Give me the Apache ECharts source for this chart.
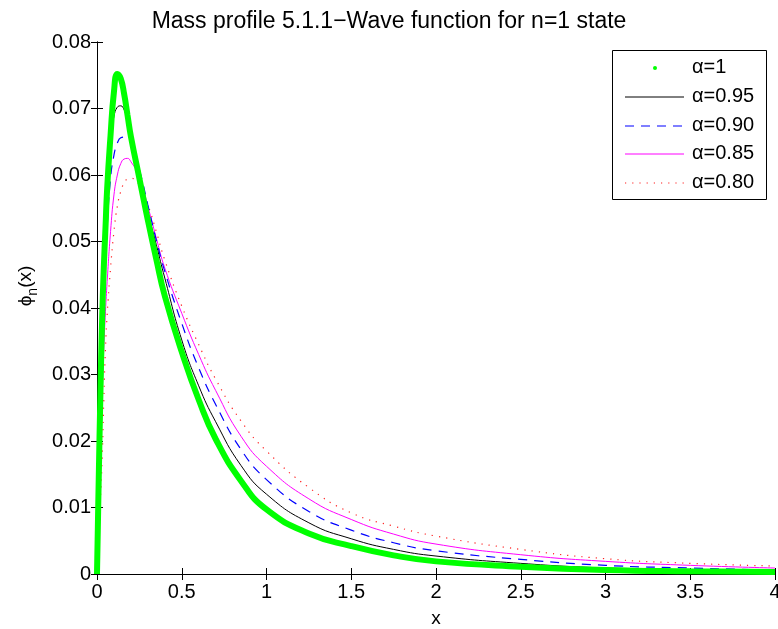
<!DOCTYPE html>
<html>
<head>
<meta charset="utf-8">
<script src="https://cdn.jsdelivr.net/npm/echarts@6/dist/echarts.min.js"></script>
<style>
  html, body { margin: 0; padding: 0; background: #fff; }
  #chart { width: 778px; height: 629px; }
</style>
</head>
<body>
<div id="chart"></div>
<script>
// Sample positions along x (shared by all curves)
const xs = [0, 0.005, 0.01, 0.02, 0.03, 0.04, 0.05, 0.06, 0.08, 0.1, 0.12, 0.14, 0.16, 0.18, 0.2,
  0.25, 0.3, 0.35, 0.4, 0.5, 0.6, 0.7, 0.85, 1.0, 1.25, 1.5, 1.75, 2.0, 2.5, 3.0, 3.5, 4.0];

// Wave function values phi_n(x) for each alpha
const phiAlpha100 = [0, 0.007, 0.014, 0.027, 0.038, 0.046, 0.052, 0.058, 0.066, 0.0725, 0.0752, 0.0745, 0.0722, 0.069, 0.0658,
  0.0595, 0.0532, 0.0473, 0.0418, 0.0334, 0.0262, 0.0203, 0.0140, 0.0097, 0.0061, 0.0042, 0.0028, 0.0019, 0.0011, 0.0006, 0.0004, 0.0003];
const phiAlpha095 = [0, 0.008, 0.0155, 0.029, 0.040, 0.048, 0.054, 0.0595, 0.0655, 0.0688, 0.0702, 0.0704, 0.0698, 0.0683, 0.0662,
  0.0603, 0.0545, 0.0495, 0.0445, 0.0352, 0.0283, 0.0229, 0.0163, 0.0120, 0.0077, 0.0053, 0.0037, 0.0027, 0.0016, 0.0009, 0.0006, 0.0004];
const phiAlpha090 = [0, 0.0065, 0.013, 0.0245, 0.034, 0.0415, 0.047, 0.0522, 0.0595, 0.0630, 0.0648, 0.0656, 0.0657, 0.0655, 0.0648,
  0.0608, 0.0555, 0.0502, 0.0455, 0.0377, 0.0310, 0.0255, 0.0187, 0.0142, 0.0094, 0.0066, 0.0047, 0.0035, 0.0022, 0.0013, 0.0009, 0.0006];
const phiAlpha085 = [0, 0.0045, 0.009, 0.0172, 0.0265, 0.034, 0.0395, 0.044, 0.0515, 0.057, 0.0600, 0.0617, 0.0624, 0.0625, 0.0620,
  0.0598, 0.0553, 0.0505, 0.0460, 0.0392, 0.0330, 0.0276, 0.0207, 0.0162, 0.0113, 0.0082, 0.0060, 0.0045, 0.0029, 0.0019, 0.0013, 0.0009];
const phiAlpha080 = [0, 0.0025, 0.005, 0.011, 0.017, 0.026, 0.034, 0.039, 0.046, 0.0515, 0.0553, 0.0575, 0.0588, 0.0594, 0.0595,
  0.0585, 0.0555, 0.0515, 0.0472, 0.0403, 0.0345, 0.0293, 0.0230, 0.0185, 0.0130, 0.0092, 0.0072, 0.0057, 0.0037, 0.0023, 0.0016, 0.0012];

const seriesNames = ['α=1', 'α=0.95', 'α=0.90', 'α=0.85', 'α=0.80'];
const titleText = 'Mass profile 5.1.1\u2212Wave function for n=1 state';

const FONT = '"Liberation Sans", Arial, Helvetica, sans-serif';

const chart = echarts.init(document.getElementById('chart'), null, { renderer: 'canvas' });

function pairs(ys) { return xs.map((x, i) => [x, ys[i]]); }

const styles = [
  { color: '#00ff00', width: 6, type: 'solid' },
  { color: '#000000', width: 1, type: 'solid' },
  { color: '#0000ff', width: 1.2, type: [9, 7] },
  { color: '#ff00ff', width: 1, type: 'solid' },
  { color: '#ff2020', width: 1.2, type: [1.2, 6] }
];
const values = [phiAlpha100, phiAlpha095, phiAlpha090, phiAlpha085, phiAlpha080];

const series = values.map((ys, k) => ({
  name: seriesNames[k],
  type: 'line',
  data: pairs(ys),
  showSymbol: false,
  symbol: 'none',
  smooth: 0.5,
  animation: false,
  lineStyle: { color: styles[k].color, width: styles[k].width, type: styles[k].type },
  z: 10 - k
}));

const axisLine = { show: true, lineStyle: { color: '#000', width: 1 } };
const tickIn = { show: true, inside: true, length: 6, lineStyle: { color: '#000', width: 1 } };
const labelStyle = { color: '#000', fontSize: 20, fontFamily: FONT };

// Legend box drawn as graphic elements
const legendLeft = 612, legendTop = 50, legendW = 154, legendH = 149;
const rowY = [68, 97, 126, 154, 183];
const legendGraphics = [
  { type: 'rect', left: legendLeft, top: legendTop, shape: { width: legendW, height: legendH },
    style: { fill: '#fff', stroke: '#000', lineWidth: 1 }, z: 100 }
];
rowY.forEach((y, k) => {
  if (k === 0) {
    legendGraphics.push({ type: 'circle', shape: { cx: 655, cy: y, r: 2 }, style: { fill: '#00ff00' }, z: 101 });
  } else {
    legendGraphics.push({ type: 'line', shape: { x1: 625, y1: y, x2: 684, y2: y },
      style: { stroke: styles[k].color, lineWidth: styles[k].width, lineDash: Array.isArray(styles[k].type) ? styles[k].type : null }, z: 101 });
  }
  legendGraphics.push({ type: 'text', left: 692, top: y - 11,
    style: { text: seriesNames[k], fill: '#000', font: '20px ' + FONT }, z: 101 });
});

chart.setOption({
  backgroundColor: '#fff',
  animation: false,
  title: {
    text: titleText,
    left: 'center',
    top: 5,
    textStyle: { color: '#000', fontSize: 23, fontWeight: 'normal', fontFamily: FONT }
  },
  grid: { left: 97, right: 3, top: 42, bottom: 55, containLabel: false, outerBoundsMode: 'none' },
  xAxis: [
    {
      type: 'value', min: 0, max: 4, interval: 0.5, position: 'bottom',
      axisLine, axisTick: tickIn, splitLine: { show: false },
      axisLabel: Object.assign({ margin: 8 }, labelStyle),
      name: 'x', nameLocation: 'middle', nameGap: 35,
      nameTextStyle: { color: '#000', fontSize: 19, fontFamily: FONT }
    },
    {
      type: 'value', min: 0, max: 4, interval: 0.5, position: 'top',
      axisLine, axisTick: tickIn, splitLine: { show: false }, axisLabel: { show: false }
    }
  ],
  yAxis: [
    {
      type: 'value', min: 0, max: 0.08, interval: 0.01, position: 'left',
      axisLine, axisTick: tickIn, splitLine: { show: false },
      axisLabel: Object.assign({ margin: 6, formatter: v => (v === 0 ? '0' : v.toFixed(2)) }, labelStyle),
      name: '{a|ϕ}{b|n}{a|(x)}', nameLocation: 'middle', nameGap: 57, nameRotate: 90,
      nameTextStyle: {
        color: '#000', fontFamily: FONT, padding: [0, 0, 0, 44],
        rich: {
          a: { fontSize: 19, fontFamily: FONT, color: '#000' },
          b: { fontSize: 14, fontFamily: FONT, color: '#000', padding: [14, 0, 0, 0] }
        }
      }
    },
    {
      type: 'value', min: 0, max: 0.08, interval: 0.01, position: 'right',
      axisLine, axisTick: tickIn, splitLine: { show: false }, axisLabel: { show: false }
    }
  ],
  series,
  graphic: legendGraphics
});
</script>
</body>
</html>
